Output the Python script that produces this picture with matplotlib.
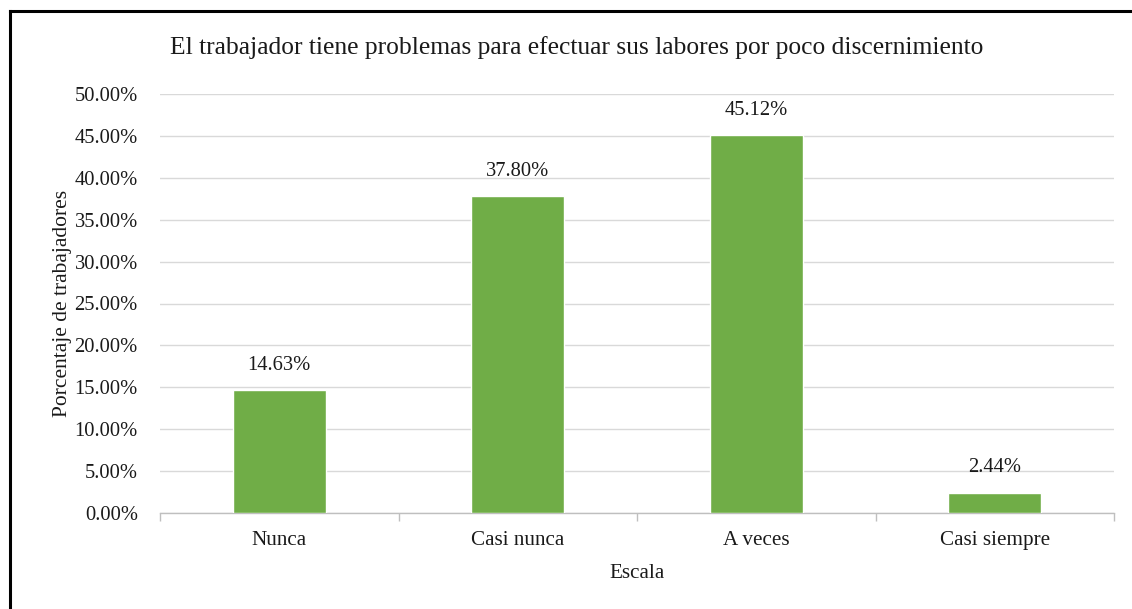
import matplotlib
matplotlib.use('Agg')
import matplotlib.pyplot as plt
from matplotlib.lines import Line2D
from matplotlib.ticker import FuncFormatter, FixedLocator, NullFormatter

categorias = ['Nunca', 'Casi nunca', 'A veces', 'Casi siempre']
porcentajes = [14.63, 37.80, 45.12, 2.44]
yticks = [0, 5, 10, 15, 20, 25, 30, 35, 40, 45, 50]

VERDE = '#70AD47'
GRIS = '#D9D9D9'
TEXTO = '#1a1a1a'

plt.rcParams['font.family'] = ['Liberation Serif', 'DejaVu Serif']

fig = plt.figure(figsize=(11.32, 6.09), dpi=100)
ax = fig.add_axes([160 / 1132, 96 / 609, (1114 - 160) / 1132, (513 - 94) / 609])

x = list(range(len(categorias)))
bars = ax.bar(x, porcentajes, width=0.39, color=VERDE, edgecolor='white',
              linewidth=1.0, zorder=3)

for b, v in zip(bars, porcentajes):
    ax.annotate(f'{v:.2f}%', xy=(b.get_x() + b.get_width() / 2, v),
                xytext=(0, 11), textcoords='offset points',
                ha='center', va='bottom', fontsize=14.8, color=TEXTO)

ax.set_xlim(-0.5, len(categorias) - 0.5)
ax.set_ylim(0, 50)
ax.set_yticks(yticks)
ax.yaxis.set_major_formatter(FuncFormatter(lambda v, p: f'{v:.2f}%'))
ax.tick_params(axis='y', length=0, pad=16, labelsize=14.8, labelcolor=TEXTO)
ax.grid(axis='y', color=GRIS, linewidth=1.0, zorder=0)

# categorías centradas, marcas de tick entre categorías
ax.set_xticks(x)
ax.set_xticklabels(categorias)
ax.tick_params(axis='x', length=0, pad=13, labelsize=15.2, labelcolor=TEXTO)
ax.xaxis.set_minor_locator(FixedLocator([-0.5, 0.5, 1.5, 2.5, 3.5]))
ax.xaxis.set_minor_formatter(NullFormatter())
ax.tick_params(axis='x', which='minor', length=6, width=1.0, color='#BFBFBF')

for s in ['top', 'right', 'left']:
    ax.spines[s].set_visible(False)
ax.spines['bottom'].set_color('#BFBFBF')
ax.spines['bottom'].set_linewidth(1.0)

ax.set_xlabel('Escala', fontsize=15.2, labelpad=10, color=TEXTO)
ax.set_ylabel('Porcentaje de trabajadores', fontsize=15.5, labelpad=2, color=TEXTO)

fig.text(577 / 1132, 1 - 48 / 609,
         'El trabajador tiene problemas para efectuar sus labores por poco discernimiento',
         ha='center', va='center', fontsize=18.4, color=TEXTO)

# marco exterior
fig.add_artist(Line2D([10 / 1132, 1.0], [1 - 10.5 / 609] * 2, color='black', lw=2.2,
                      transform=fig.transFigure))
fig.add_artist(Line2D([10 / 1132] * 2, [0, 1 - 10.5 / 609], color='black', lw=2.2,
                      transform=fig.transFigure))

fig.savefig('out.png', dpi=100, facecolor='white')
